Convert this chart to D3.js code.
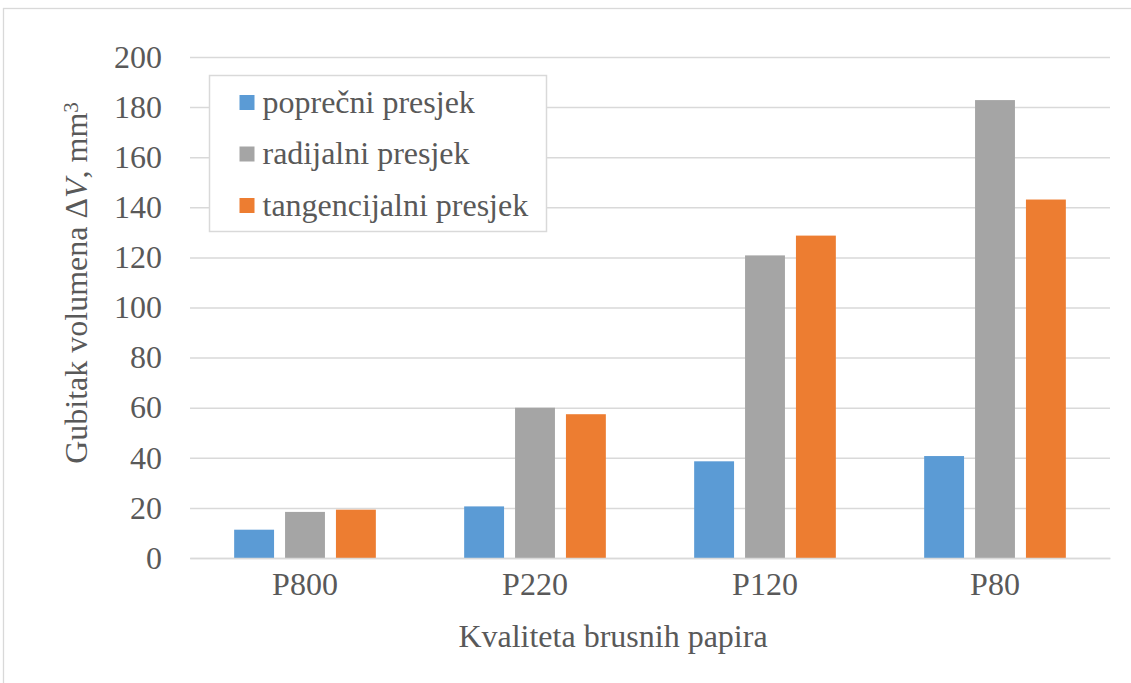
<!DOCTYPE html>
<html>
  <head>
    <meta charset="utf-8">
    <title>Gubitak volumena</title>
    <script src="https://d3js.org/d3.v7.min.js"></script>
    <style>
      body { margin: 0; background: #fff; }
      svg { display: block; }
      text { font-family: "Liberation Serif", "Times New Roman", serif; fill: #595959; }
    </style>
  </head>
  <body>
    <svg id="chart" width="1131" height="683">
      <g id="gridGroup"></g>
      <g id="chartGroup"></g>
      <g id="xAxisGroup"></g>
      <g id="yAxisGroup"></g>
      <g id="legendGroup"></g>
    </svg>
    <script>
      // data
      categories = ["P800", "P220", "P120", "P80"];
      seriesNames = ["poprečni presjek", "radijalni presjek", "tangencijalni presjek"];
      seriesColors = ["#5b9bd5", "#a5a5a5", "#ed7d31"];
      poprecni = [11.3, 20.6, 38.6, 40.7];
      radijalni = [18.4, 60, 120.8, 182.8];
      tangencijalni = [19.3, 57.4, 128.7, 143.1];
      yTicks = [0, 20, 40, 60, 80, 100, 120, 140, 160, 180, 200];

      seriesValues = [poprecni, radijalni, tangencijalni];
      rows = categories.map(function(c, i) {
        return { category: c, values: seriesValues.map(function(s) { return s[i]; }) };
      });

      chart = d3.select("#chart");
      margin = { top: 57, right: 21, bottom: 125, left: 190 };
      width = 1131;
      height = 683;

      // outer chart border
      chart.insert("rect", ":first-child")
        .attr("x", 3.5)
        .attr("y", 8.5)
        .attr("width", 1140)
        .attr("height", 700)
        .attr("fill", "#fff")
        .attr("stroke", "#d9d9d9")
        .attr("stroke-width", 1.3);

      x0 = d3.scaleBand()
        .domain(categories)
        .range([margin.left, width - margin.right])
        .paddingInner(0.384)
        .paddingOuter(0.192);
      x1 = d3.scaleBand()
        .domain(d3.range(seriesNames.length))
        .range([0, x0.bandwidth()])
        .paddingInner(0.216);
      y = d3.scaleLinear()
        .domain([0, 200])
        .range([height - margin.bottom, margin.top]);

      // gridlines
      d3.select("#gridGroup")
        .attr("transform", "translate(" + margin.left + ", 0)")
        .call(d3.axisLeft(y)
          .tickValues(yTicks)
          .tickSize(-(width - margin.left - margin.right))
          .tickFormat(""))
        .call(function(g) { g.select(".domain").remove(); })
        .selectAll("line")
          .attr("stroke", "#d9d9d9")
          .attr("stroke-width", 1.5);

      // bars
      groups = d3.select("#chartGroup")
        .selectAll(".group")
          .data(rows)
        .enter().append("g")
          .classed("group", true)
          .attr("transform", function(d) { return "translate(" + x0(d.category) + ", 0)"; });
      groups.selectAll("rect")
          .data(function(d) { return d.values; })
        .enter().append("rect")
          .attr("x", function(d, i) { return x1(i); })
          .attr("y", function(d) { return y(d); })
          .attr("width", x1.bandwidth())
          .attr("height", function(d) { return y(0) - y(d); })
          .attr("fill", function(d, i) { return seriesColors[i]; });

      // axes
      xAxisGroup = d3.select("#xAxisGroup")
        .attr("transform", "translate(0, " + y(0) + ")")
        .call(d3.axisBottom(x0).tickSize(0).tickPadding(14))
        .attr("font-family", null)
        .attr("font-size", null);
      xAxisGroup.select(".domain").attr("stroke", "#d9d9d9").attr("stroke-width", 1.5);
      xAxisGroup.selectAll(".tick text").style("font-size", "32px").attr("fill", null).attr("dy", "0.71em");
      xAxisGroup.append("text")
        .attr("x", 613)
        .attr("y", 89)
        .attr("text-anchor", "middle")
        .style("font-size", "32px")
        .text("Kvaliteta brusnih papira");

      yAxisGroup = d3.select("#yAxisGroup")
        .attr("transform", "translate(" + margin.left + ", 0)")
        .call(d3.axisLeft(y).tickValues(yTicks).tickSize(0).tickPadding(28))
        .attr("font-family", null)
        .attr("font-size", null);
      yAxisGroup.select(".domain").remove();
      yAxisGroup.selectAll(".tick text").style("font-size", "32px").attr("fill", null);

      yTitle = chart.append("text")
        .attr("transform", "translate(87, 283) rotate(-90)")
        .attr("text-anchor", "middle")
        .style("font-size", "32px");
      yTitle.append("tspan").text("Gubitak volumena \u0394");
      yTitle.append("tspan").style("font-style", "italic").text("V");
      yTitle.append("tspan").text(", mm");
      yTitle.append("tspan").attr("dy", "-0.45em").style("font-size", "21px").text("3");

      // legend
      legend = d3.select("#legendGroup")
        .attr("transform", "translate(209.5, 75.5)");
      legend.append("rect")
        .attr("width", 337)
        .attr("height", 156)
        .attr("fill", "#fff")
        .attr("stroke", "#d9d9d9")
        .attr("stroke-width", 1.5);
      items = legend.selectAll(".item")
          .data(seriesNames)
        .enter().append("g")
          .classed("item", true)
          .attr("transform", function(d, i) { return "translate(30, " + (27 + i * 51.5) + ")"; });
      items.append("rect")
        .attr("y", -7.5)
        .attr("width", 15)
        .attr("height", 15)
        .attr("fill", function(d, i) { return seriesColors[i]; });
      items.append("text")
        .attr("x", 23)
        .attr("dy", "0.32em")
        .style("font-size", "32px")
        .text(function(d) { return d; });
    </script>
  </body>
</html>
